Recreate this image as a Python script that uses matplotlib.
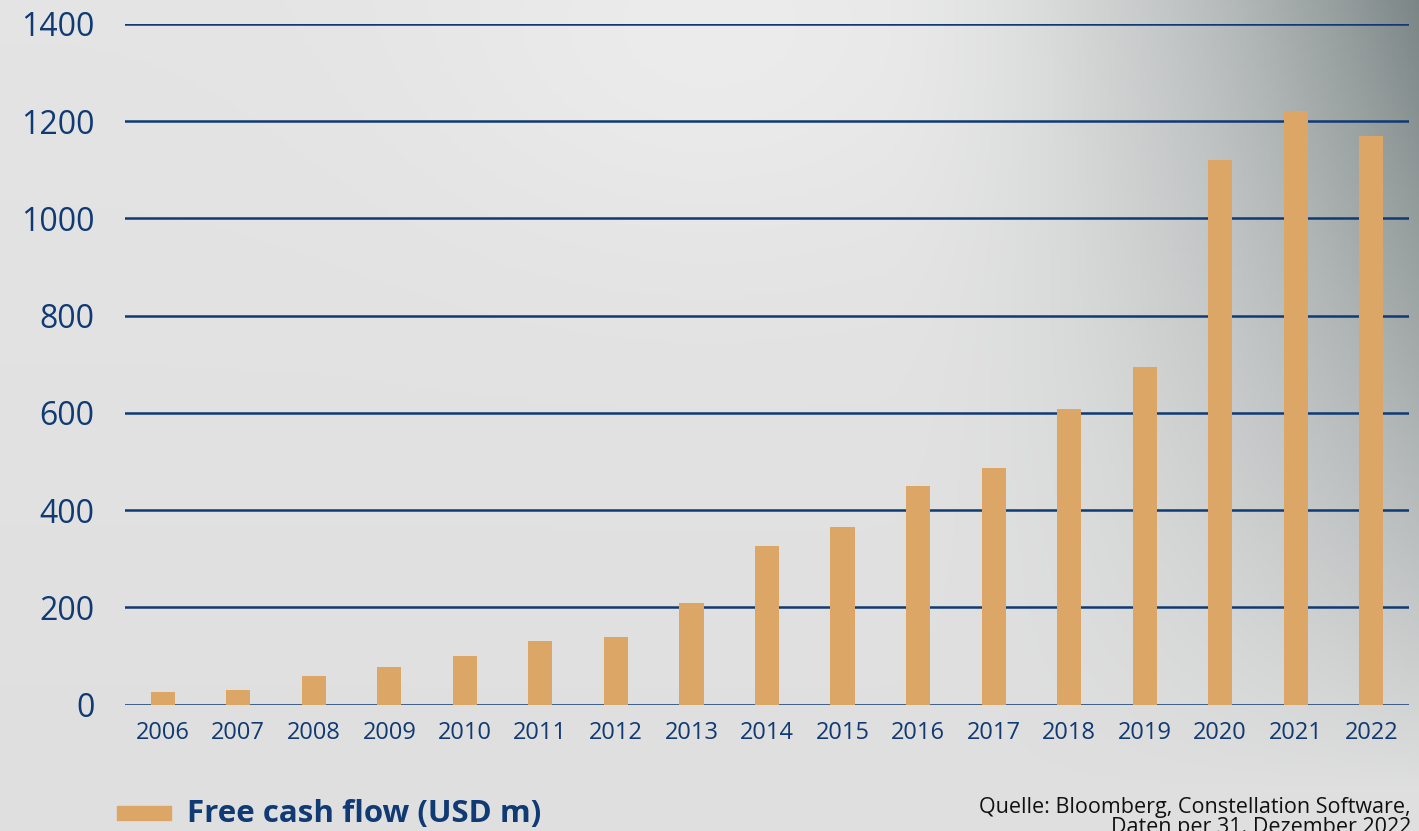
import matplotlib
matplotlib.use("Agg")
import matplotlib.pyplot as plt
import numpy as np

# data
years = ["2006", "2007", "2008", "2009", "2010", "2011", "2012", "2013", "2014",
         "2015", "2016", "2017", "2018", "2019", "2020", "2021", "2022"]
free_cash_flow = [26, 31, 59, 77, 100, 130, 139, 209, 327,
                  365, 449, 486, 608, 694, 1120, 1222, 1170]
y_ticks = [0, 200, 400, 600, 800, 1000, 1200, 1400]

legend_label = "Free cash flow (USD m)"
source_text = "Quelle: Bloomberg, Constellation Software,\nDaten per 31. Dezember 2022"

NAVY = "#0f3a74"
BAR = "#dca766"
W, H = 1419, 831

plt.rcParams["font.family"] = ["Open Sans", "DejaVu Sans"]

fig = plt.figure(figsize=(W / 100, H / 100), dpi=100)

# grey gradient background, darker towards the top right corner
bg = fig.add_axes([0, 0, 1, 1], zorder=-10)
xx, yy = np.meshgrid(np.linspace(0, 1, 400), np.linspace(0, 1, 240))
s = np.clip((xx - 0.62) / 0.38, 0, 1) ** 1.8
t = np.clip(1 - yy / 0.95, 0, 1) ** 0.9
dark = 0.36 * s * t
bump = 0.03 * np.exp(-((xx - 0.5) ** 2 / 0.04 + (yy - 0.05) ** 2 / 0.06))
base = 0.895 + bump - dark - 0.02 * yy
img = np.dstack([base - 0.05 * s * t, base - 0.01 * s * t, base - 0.01 * s * t])
bg.imshow(np.clip(img, 0, 1), aspect="auto", extent=[0, 1, 1, 0])
bg.set_axis_off()

ax = fig.add_axes([125 / W, (H - 704.6) / H, (1409 - 125) / W, 680.6 / H])
ax.patch.set_alpha(0)
x = np.arange(len(years))
ax.bar(x, free_cash_flow, width=0.32, color=BAR, zorder=3)

ax.set_xlim(-0.5, len(years) - 0.5)
ax.set_ylim(0, 1400)
ax.set_yticks(y_ticks)
ax.set_xticks(x)
ax.set_xticklabels(years)
for sp in ax.spines.values():
    sp.set_visible(False)
ax.grid(axis="y", color=NAVY, linewidth=1.8, zorder=1)
ax.set_axisbelow(True)
ax.tick_params(axis="y", length=0, pad=22, labelsize=23, labelcolor=NAVY)
ax.tick_params(axis="x", length=0, pad=12, labelsize=17, labelcolor=NAVY)

# legend drawn by hand like the reference
fig.patches.append(plt.Rectangle((117 / W, (H - 820) / H), 54 / W, 14 / H,
                                 transform=fig.transFigure, color=BAR))
fig.text(187 / W, (H - 814) / H, legend_label, fontsize=22.5, fontweight="bold",
         color=NAVY, va="center", ha="left")

fig.text(1411 / W, (H - 797) / H, source_text, fontsize=15.5, color="#111111",
         ha="right", va="top", linespacing=0.95, multialignment="right")

fig.savefig("out.png", dpi=100)
